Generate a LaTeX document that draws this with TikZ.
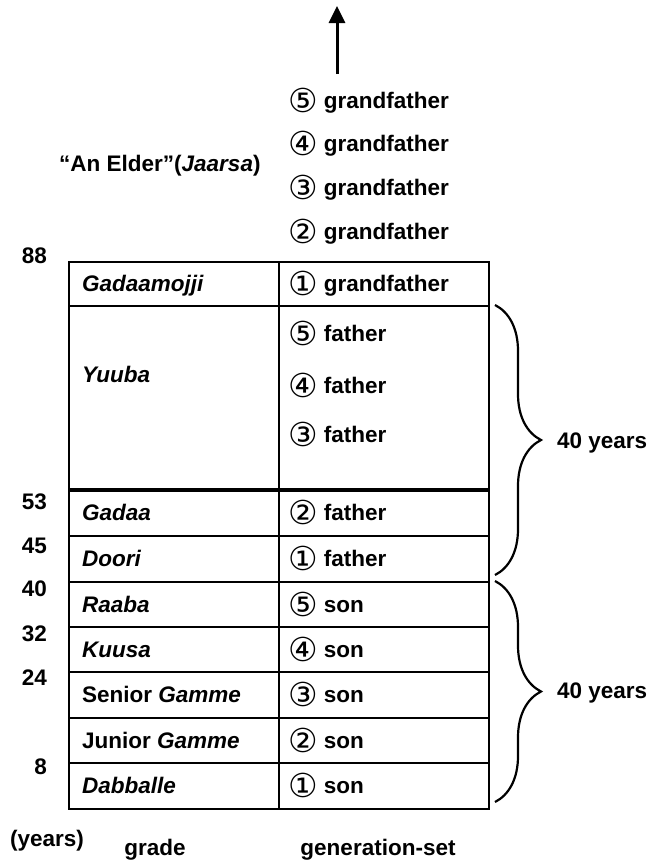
\documentclass[tikz,border=0pt]{standalone}
\usepackage{fontspec}
\setmainfont{Liberation Sans}
\newfontfamily\circfont{DejaVu Sans}
\usetikzlibrary{arrows.meta,decorations.pathreplacing}
\newcommand{\cn}[1]{\raisebox{-4.5pt}{\circfont\mdseries\upshape\fontsize{33}{35}\selectfont #1}\hspace{6pt}}
\begin{document}
\begin{tikzpicture}[x=1pt,y=-1pt,
  font=\fontsize{22.5}{26}\selectfont\bfseries,
  cellbox/.style={draw, line width=2.2pt, minimum width=210pt, inner sep=0pt, anchor=north west},
  lbl/.style={anchor=mid west, inner sep=0pt, yshift=-5.5pt},
  num/.style={anchor=mid east, inner sep=0pt, yshift=-5.5pt},
  ctr/.style={anchor=mid, inner sep=0pt, yshift=-5.5pt},
  bracestyle/.style={line width=2.2pt, decorate, decoration={brace, amplitude=46pt}}]
\useasboundingbox (0,0) rectangle (654,862);

% arrow
\coordinate (arrowfoot) at (337,74);
\coordinate (arrowtip) at (337,6);
\draw[line width=3pt, -{Triangle[length=17pt,width=16pt]}] (arrowfoot) -- (arrowtip);

% grandfathers above table
\node[lbl] (gf5) at (288,100) {\cn{⑤}grandfather};
\node[lbl] (gf4) at (288,143) {\cn{④}grandfather};
\node[lbl] (gf3) at (288,187) {\cn{③}grandfather};
\node[lbl] (gf2) at (288,231) {\cn{②}grandfather};
\node[lbl] (elder) at (59,163) {“An Elder”(\textit{Jaarsa})};

% table cells
\node[cellbox, minimum height=44pt]  (c1l) at (68,261) {};
\node[cellbox, minimum height=44pt]  (c1r) at (278,261) {};
\node[cellbox, minimum height=183pt] (c2l) at (68,305) {};
\node[cellbox, minimum height=183pt] (c2r) at (278,305) {};
\node[cellbox, minimum height=47pt]  (c3l) at (68,488) {};
\node[cellbox, minimum height=47pt]  (c3r) at (278,488) {};
\node[cellbox, minimum height=46pt]  (c4l) at (68,535) {};
\node[cellbox, minimum height=46pt]  (c4r) at (278,535) {};
\node[cellbox, minimum height=45pt]  (c5l) at (68,581) {};
\node[cellbox, minimum height=45pt]  (c5r) at (278,581) {};
\node[cellbox, minimum height=45pt]  (c6l) at (68,626) {};
\node[cellbox, minimum height=45pt]  (c6r) at (278,626) {};
\node[cellbox, minimum height=46pt]  (c7l) at (68,671) {};
\node[cellbox, minimum height=46pt]  (c7r) at (278,671) {};
\node[cellbox, minimum height=45pt]  (c8l) at (68,717) {};
\node[cellbox, minimum height=45pt]  (c8r) at (278,717) {};
\node[cellbox, minimum height=46pt]  (c9l) at (68,762) {};
\node[cellbox, minimum height=46pt]  (c9r) at (278,762) {};
\draw[line width=3.5pt] (c2l.south west) -- (c2r.south east);

% grade names
\node[lbl] (t1l) at (82,283) {\textit{Gadaamojji}};
\node[lbl] (t2l) at (82,374) {\textit{Yuuba}};
\node[lbl] (t3l) at (82,512) {\textit{Gadaa}};
\node[lbl] (t4l) at (82,558) {\textit{Doori}};
\node[lbl] (t5l) at (82,604) {\textit{Raaba}};
\node[lbl] (t6l) at (82,649) {\textit{Kuusa}};
\node[lbl] (t7l) at (82,694) {Senior \textit{Gamme}};
\node[lbl] (t8l) at (82,740) {Junior \textit{Gamme}};
\node[lbl] (t9l) at (82,785) {\textit{Dabballe}};

% generation-sets
\node[lbl] (t1r) at (288,283) {\cn{①}grandfather};
\node[lbl] (t2ra) at (288,333) {\cn{⑤}father};
\node[lbl] (t2rb) at (288,385) {\cn{④}father};
\node[lbl] (t2rc) at (288,434) {\cn{③}father};
\node[lbl] (t3r) at (288,512) {\cn{②}father};
\node[lbl] (t4r) at (288,558) {\cn{①}father};
\node[lbl] (t5r) at (288,604) {\cn{⑤}son};
\node[lbl] (t6r) at (288,649) {\cn{④}son};
\node[lbl] (t7r) at (288,694) {\cn{③}son};
\node[lbl] (t8r) at (288,740) {\cn{②}son};
\node[lbl] (t9r) at (288,785) {\cn{①}son};

% ages
\node[num] (a88) at (47,255) {88};
\node[num] (a53) at (47,501) {53};
\node[num] (a45) at (47,545) {45};
\node[num] (a40) at (47,588) {40};
\node[num] (a32) at (47,633) {32};
\node[num] (a24) at (47,677) {24};
\node[num] (a8)  at (47,766) {8};

% braces
\coordinate (b1top) at (495,305);
\coordinate (b1bot) at (495,575);
\coordinate (b2top) at (495,581);
\coordinate (b2bot) at (495,802);
\draw[bracestyle] (b1top) -- (b1bot);
\draw[bracestyle] (b2top) -- (b2bot);
\node[lbl] (y1) at (557,440) {40 years};
\node[lbl] (y2) at (557,690) {40 years};

% bottom labels
\node[lbl] (yrs) at (10,838) {(years)};
\node[ctr] (grade) at (155,847) {grade};
\node[ctr] (gset) at (378,847) {generation-set};
\end{tikzpicture}
\end{document}
